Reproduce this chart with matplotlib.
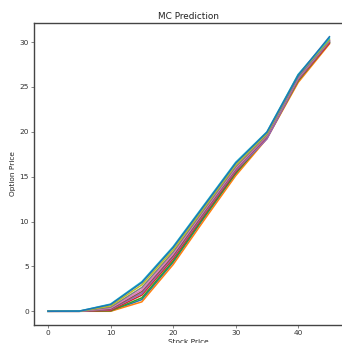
import matplotlib
matplotlib.use("Agg")
import matplotlib.pyplot as plt

stock_price = [0, 5, 10, 15, 20, 25, 30, 35, 40, 45]

line_00 = [0, 0, 0.02, 1.30, 5.45, 10.45, 15.30, 19.30, 25.65, 29.90]
line_01 = [0, 0, 0.00, 1.05, 5.20, 10.20, 15.10, 19.25, 25.50, 29.80]
line_02 = [0, 0, 0.05, 1.50, 5.60, 10.60, 15.40, 19.35, 25.70, 29.95]
line_03 = [0, 0, 0.10, 1.80, 5.85, 10.80, 15.55, 19.40, 25.80, 29.90]
line_04 = [0, 0, 0.20, 2.00, 6.05, 10.95, 15.70, 19.20, 25.85, 30.05]
line_05 = [0, 0, 0.25, 2.20, 6.20, 11.10, 15.85, 19.50, 25.95, 30.10]
line_06 = [0, 0, 0.35, 2.40, 6.40, 11.25, 15.95, 19.55, 26.00, 30.15]
line_07 = [0, 0, 0.45, 2.65, 6.60, 11.40, 16.10, 19.65, 26.10, 30.20]
line_08 = [0, 0.01, 0.60, 2.95, 6.85, 11.60, 16.30, 19.80, 26.35, 30.30]
line_09 = [0, 0.02, 0.80, 3.30, 7.20, 11.90, 16.60, 20.00, 26.40, 30.45]
line_10 = [0, 0.02, 0.75, 3.20, 7.10, 11.80, 16.50, 19.95, 26.30, 30.60]

series = [line_00, line_01, line_02, line_03, line_04, line_05,
          line_06, line_07, line_08, line_09, line_10]

s = 0.53
plt.rcParams['font.family'] = ['DejaVu Sans']
fig = plt.figure(figsize=(3.42, 3.43), dpi=100)
ax = fig.add_axes([34/342, 18/343, 309.5/342, 302/343])
for vals in series:
    ax.plot(stock_price, vals, lw=1.1)
ax.set_title("MC Prediction", fontsize=12*s, pad=6*s, color='#222222')
ax.set_xlabel("Stock Price", fontsize=10*s, labelpad=4*s, color='#222222')
ax.set_ylabel("Option Price", fontsize=10*s, labelpad=4*s, color='#222222')
ax.tick_params(labelsize=10*s, length=3.5*s, width=0.8*s, pad=3.5*s,
               colors='#333333')
for sp in ax.spines.values():
    sp.set_linewidth(1.0)
    sp.set_color('#444444')
fig.savefig("out.png", dpi=100)
